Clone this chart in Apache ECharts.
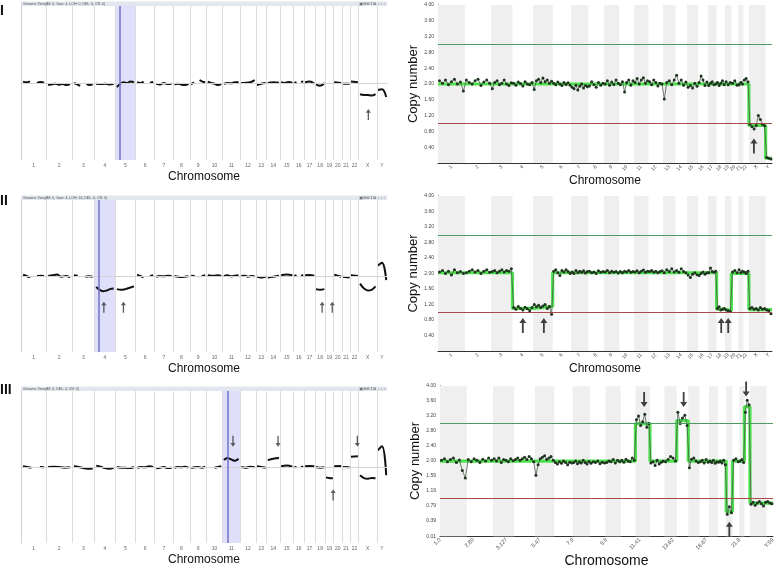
<!DOCTYPE html>
<html><head><meta charset="utf-8">
<script src="https://cdn.jsdelivr.net/npm/echarts@6/dist/echarts.min.js"></script>
<style>html,body{margin:0;padding:0;background:#fff}#c{width:778px;height:569px}</style>
</head><body><div id="c"></div>
<script>
// ---------------- DATA ----------------
const chrNames = ['1','2','3','4','5','6','7','8','9','10','11','12','13','14','15','16','17','18','19','20','21','22','X','Y'];
// right-hand plots: genome position (Mb)
const chrSizesMb = [249,243,198,191,181,171,159,146,141,136,135,134,115,107,103,90,81,78,59,63,48,51,155,59];
// left-hand plots: chromosome display widths
const leftChrWidths = [75,78,67,62,61,57,55,50,50,48,52,48,32,40,40,32,33,30,25,25,25,25,55,30];

// left-hand (smoothed log ratio) traces, per chromosome, null = gap
const leftI = [
 [0.1,0.05,0.12,null,0.0,0.08,0.02],[-0.15,-0.1,-0.05,-0.12,-0.08,-0.15,-0.1],[0.0,-0.1,-0.2,null,-0.05,-0.15,-0.1],
 [-0.05,-0.08,-0.05,-0.1,-0.08],[-0.3,-0.05,0.05,0.0,0.1,0.05],[0.05,0.0,0.1,null,0.02,0.08],[-0.05,-0.1,0.0,-0.08,-0.05],
 [-0.1,-0.05,-0.12,-0.15,-0.08],[-0.1,0.05,null,0.2,0.1,0.05],[0.1,0.0,-0.05,-0.15,-0.08],[-0.05,0.0,-0.02,0.05,0.08],
 [0.0,0.02,0.05,0.2],[-0.15,-0.05,0.0],[0.0,0.05,0.02],[0.05,0.0,0.08,0.02],[0.0,0.05,null,0.08,0.1],[0.05,0.1,-0.05],
 [-0.1,-0.2,0.0],[0.05,null,0.0],[0.05,0.0],[-0.05,-0.05],[0.1,0.05],[-0.8,-0.85,-0.85,-0.9,-0.8],[-0.5,-0.45,-1.0]
];
const leftII = [
 [0.1,0.0,-0.1,null,0.0,0.02,0.0],[0.0,0.05,0.1,-0.05,0.0,-0.1],[0.05,0.02,null,-0.05,-0.02,-0.05],
 [-0.8,-1.0,-1.1,-1.05,-0.95,-0.9],[-0.95,-1.0,-0.95,-0.85,-0.75],[0.1,0.0,-0.1,null,0.0,0.05],[-0.05,0.0,-0.02,0.02,0.0],
 [0.0,-0.05,-0.08,-0.05,-0.02],[0.02,0.0,null,-0.02,0.05],[0.05,0.02,0.02,0.05,0.0],[0.0,0.05,-0.02,0.02,0.05],
 [0.0,0.02,-0.05,0.0,-0.02],[-0.05,-0.1,-0.05],[-0.1,-0.05,0.02],[0.05,0.1,0.05],[0.0,0.05,null,0.02,0.05],[0.05,0.08,0.02],
 [-0.95,-1.0,-0.95],[-0.75,null,-0.7],[0.1,-0.05],[-0.05,-0.1],[0.05,0.0],[-0.55,-0.9,-1.05,-1.0,-0.75],[0.75,0.95,-0.3]
];
const leftIII = [
 [0.05,0.0,-0.05,null,0.0,-0.02],[0.0,0.02,0.0,-0.05,-0.02],[0.05,0.0,-0.08,-0.12,-0.1],
 [0.1,0.02,-0.08,-0.12,-0.05],[0.0,-0.05,-0.05,-0.08,0.0],[-0.05,0.0,-0.02,0.05,0.0],[-0.1,-0.05,0.0,-0.08,-0.05],
 [-0.05,0.0,-0.02,0.02,-0.05],[-0.08,-0.02,0.0,-0.05,0.02],[0.02,null,-0.05,0.0,0.05],[0.5,0.65,0.55,0.45,0.6],
 [0.0,-0.05,0.02,-0.02],[0.05,0.0,-0.05],[0.5,0.6,0.65],[0.05,0.1,0.02],[0.0,-0.02,null,0.0,0.02],[0.05,0.08,0.05],
 [0.0,-0.05,-0.02],[-0.75,-0.8,-0.82],[0.05,0.08],[0.0,-0.02],[0.75,0.78],[-0.6,-0.8,-0.85,-0.8,-0.82],[1.2,1.5,-0.6]
];

// right-hand copy number probes, per chromosome
const cnI = [
 [2.08,2.02,2.1,1.98,2.06,2.12,2.0,2.05,1.82],[2.1,2.04,2.0,2.08,2.12,1.96,2.05,2.1,2.02],[1.88,2.04,2.08,1.98,2.02,2.1,2.0,1.96,2.03],
 [2.02,1.97,2.05,2.01,1.95,2.06,2.0,1.98,2.04],[1.86,2.08,2.12,2.04,2.15,2.06,2.1,2.02,2.07],[2.02,1.98,2.05,2.0,1.96,2.04,1.99,2.03,1.97],
 [1.92,1.88,1.97,1.85,1.94,2.0,1.9,1.96,1.93],[1.95,2.06,1.98,1.92,2.04,1.97,2.02],[2.0,2.08,1.97,2.05,1.99,2.1,2.02],
 [1.98,2.06,1.8,2.04,2.1,1.97,2.08],[2.04,2.14,2.0,2.1,2.16,2.02,2.08],[2.06,1.98,2.1,2.04,1.95,2.02,2.0],
 [1.62,2.04,2.08,1.98,2.1],[2.22,2.02,2.1,1.97,2.05],[1.92,1.96,1.9,2.02,1.94],[2.04,2.2,2.1,1.96,2.05],[1.96,2.02,2.06,1.98,2.0],
 [2.04,1.96,2.02,2.08,1.98],[2.06,1.98,2.04],[2.02,2.08,1.97],[1.98,2.04,2.0],[2.1,2.14,2.06],
 [0.98,0.92,0.86,0.95,1.2,1.1,0.98,0.94],[0.14,0.12,0.1]
];
const cnII = [
 [2.04,2.08,2.0,2.06,1.96,2.1,2.02,2.05,2.0],[2.02,2.06,2.1,2.04,2.08,2.0,2.06,2.1,2.03],[2.05,2.08,2.02,2.06,2.1,2.04,2.08,2.06,2.12],
 [1.12,1.08,1.15,1.1,1.06,1.13,1.09,1.04,1.12],[1.2,1.14,1.18,1.12,1.16,1.2,1.1,1.15,0.95],[2.06,2.1,2.02,1.95,2.08,2.04,2.1,2.05,2.0],
 [2.04,2.0,2.08,2.02,2.06,2.03,2.07,2.01,2.05],[2.06,2.02,2.04,2.0,2.07,2.03,2.05],[2.04,2.08,2.02,2.06,2.03,2.05,2.01],
 [2.05,2.02,2.06,2.04,2.08,2.03,2.05],[2.04,2.07,2.02,2.06,2.09,2.03,2.06],[2.05,2.08,2.03,2.06,2.02,2.05,2.07],
 [2.02,2.1,2.05,2.12,2.04],[2.08,2.03,2.12,2.05,2.02],[1.96,1.9,1.98,2.02,1.97],[1.95,2.0,2.04,1.98,2.02],[2.02,2.14,2.05,2.03,2.06],
 [1.1,1.14,1.06,1.08,1.1],[1.06,1.04,1.02],[2.04,2.08,2.02],[2.1,2.02,2.06],[2.04,2.0,2.06],
 [1.1,1.12,1.08,1.1,1.06,1.12,1.08,1.1],[1.06,1.04,0.96]
];
const cnIII = [
 [2.02,2.06,1.98,2.04,2.08,1.96,2.03,1.75,1.55],[2.04,1.98,2.06,2.02,1.96,2.05,2.0,2.08,2.02],[2.06,2.0,2.08,1.96,2.04,2.02,1.98,2.06,2.01],
 [2.04,2.08,2.02,2.06,2.1,2.04,2.12,2.06,1.98],[1.62,1.9,2.06,2.1,2.14,2.04,2.08,2.12,2.02],[1.96,1.92,1.98,1.94,2.0,1.96,1.9,1.97,1.95],
 [1.96,2.0,1.93,1.98,1.95,2.02,1.96,1.92,1.99],[1.94,1.98,1.96,2.0,1.93,1.97,1.95],[1.96,2.0,1.98,2.04,1.95,2.02,1.98],
 [2.02,1.97,2.05,2.0,1.98,2.08,2.02],[3.1,3.2,2.95,3.05,3.25,2.9,3.0],[1.95,1.98,1.88,2.02,1.92,1.97,2.0],
 [1.98,2.04,2.12,2.08,2.0],[3.3,3.0,3.15,3.22,2.95],[1.82,2.05,2.08,2.0,1.96],[1.98,2.02,1.95,2.04,1.97],[2.0,1.96,2.02,1.94,1.98],
 [1.97,2.0,1.95,2.02,1.9],[0.58,0.78,0.62],[2.02,2.06,1.98],[2.0,2.04,1.96],[3.3,3.62,3.5],
 [0.85,0.9,0.82,0.88,0.92,0.86,0.8,0.9],[0.92,0.88,0.86]
];

// segmented copy number: [from chr, to chr, value]
const segI = [['1','22',2.0],['X','X',0.95],['Y','Y',0.12]];
const segII = [['1','3',2.02],['4','4',1.1],['5','5',1.15],['6','17',2.02],['18','18',1.08],['19','19',1.04],['20','22',2.0],['X','Y',1.07]];
const segIII = [['1','10',2.0],['11','11',3.0],['12','13',2.0],['14','14',3.08],['15','18',2.0],['19','19',0.65],['20','21',2.0],['22','22',3.45],['X','Y',0.88]];

// arrows: [chr, fraction within chr, value at tip, direction]
const arrowsLeftI = [['X',0.53,-1.86,'up']];
const arrowsLeftII = [['4',0.45,-1.86,'up'],['5',0.4,-1.86,'up'],['18',0.7,-1.86,'up'],['19',0.85,-1.86,'up']];
const arrowsLeftIII = [['11',0.6,1.47,'down'],['14',0.85,1.47,'down'],['22',0.85,1.47,'down'],['19',0.95,-1.62,'up']];
const arrowsRightI = [['X',0.3,0.62,'up']];
const arrowsRightII = [['4',0.5,0.85,'up'],['5',0.55,0.85,'up'],['18',0.55,0.85,'up'],['19',0.5,0.85,'up']];
const arrowsRightIII = [['11',0.6,3.44,'down'],['14',0.6,3.44,'down'],['22',0.3,3.72,'down'],['19',0.5,0.38,'up']];

// highlighted chromosome in left plots: [chr, cursor fraction]
const highlights = [['5',0.2],['4',0.2],['11',0.32]];

const panelLabels = ['I','II','III'];
const barTexts = ['Genome View(Aff: 0, Gain: 4, LOH: 0, DEL: 0, CN: 0)','Genome View(Aff: 0, Gain: 4, LOH: 16, DEL: 0, CN: 0)','Genome View(Aff: 0, DEL: 4, CN: 0)'];
const yTickLabelsIII = ['0.01','0.39','0.79','1.19','1.59','2.00','2.40','2.80','3.20','3.60','4.00'];
const xTickLabelsIII = ['1.0','2.80','3.127','5.47','7.9','9.9','11.41','13.62','16.67','21.8','Y.59'];

// ---------------- BUILD ----------------
function cum(w){const s=[];let a=0;for(const v of w){s.push(a);a+=v;}return {starts:s,total:a};}
const R = cum(chrSizesMb), L = cum(leftChrWidths);
const idx = n => chrNames.indexOf(n);
const rCenters = R.starts.map((s,i)=>s+chrSizesMb[i]/2);
const lCenters = L.starts.map((s,i)=>s+leftChrWidths[i]/2);
const nearestName = (centers)=> v => {let b=0;for(let i=1;i<centers.length;i++) if(Math.abs(centers[i]-v)<Math.abs(centers[b]-v)) b=i; return chrNames[b];};

function leftLineData(vals){
  const out=[];
  vals.forEach((arr,c)=>{
    const s=L.starts[c], w=leftChrWidths[c], n=arr.length;
    arr.forEach((v,k)=>{ out.push([s+w*(0.08+0.84*(n===1?0.5:k/(n-1))), v===null?'-':v]); });
    out.push([s+w,'-']);
  });
  return out;
}
function dotData(vals){
  const out=[];
  vals.forEach((arr,c)=>{ const s=R.starts[c], w=chrSizesMb[c], n=arr.length; arr.forEach((v,k)=>out.push([s+w*(k+0.5)/n, v])); });
  return out;
}
function segData(segs){
  const out=[];
  segs.forEach(([a,b,v])=>{ out.push([R.starts[idx(a)], v]); out.push([R.starts[idx(b)]+chrSizesMb[idx(b)], v]); });
  return out;
}
const UP='path://M5 0 L10 8 L6.3 8 L6.3 24 L3.7 24 L3.7 8 L0 8 Z';
const DOWN='path://M3.7 0 L6.3 0 L6.3 16 L10 16 L5 24 L0 16 L3.7 16 Z';
function arrowData(list, starts, widths){
  return list.map(([c,f,v,d])=>({value:[starts[idx(c)]+widths[idx(c)]*f, v], symbol: d==='up'?UP:DOWN, symbolOffset:[0, d==='up'?'50%':'-50%']}));
}

const leftGrids = [{left:21,top:6,width:366,height:154},{left:21,top:200,width:366,height:152},{left:21,top:391,width:366,height:152}];
const rightGrids = [{left:438,top:5,width:334,height:158},{left:438,top:196,width:334,height:155},{left:440,top:386,width:333,height:157}];
const grid = leftGrids.concat(rightGrids);

const xAxis=new Array(6), yAxis=new Array(6), series=[], graphic=[];
const leftSets=[leftI,leftII,leftIII], cnSets=[cnI,cnII,cnIII], segSets=[segI,segII,segIII];
const lArrows=[arrowsLeftI,arrowsLeftII,arrowsLeftIII], rArrows=[arrowsRightI,arrowsRightII,arrowsRightIII];
const font='Liberation Sans, Arial, sans-serif';

for(let p=0;p<3;p++){
  // left plot
  xAxis[p]={gridIndex:p,type:'value',min:0,max:L.total,
    axisLine:{lineStyle:{color:'#bdbdbd'}},
    axisTick:{show:true,customValues:L.starts.slice(1),length:2,lineStyle:{color:'#bbb'}},
    axisLabel:{customValues:lCenters,formatter:nearestName(lCenters),fontSize:5,color:'#666',margin:3,fontFamily:font},
    splitLine:{show:false},
    name:'Chromosome',nameLocation:'middle',nameGap:11,nameTextStyle:{fontSize:12,color:'#111',fontFamily:font}};
  yAxis[p]={gridIndex:p,type:'value',min:-5.5,max:5.5,axisLine:{show:true,lineStyle:{color:'#cfcfcf'}},
    axisTick:{show:false},axisLabel:{show:false},splitLine:{show:false}};
  const hl=highlights[p], hi=idx(hl[0]);
  const bounds=L.starts.slice(1).map(v=>({xAxis:v,lineStyle:{color:'#dcdcdc',width:1,type:'solid'}}));
  bounds.push({yAxis:0,lineStyle:{color:'#d4d4d4',width:1,type:'solid'}});
  bounds.push({xAxis:L.starts[hi]+leftChrWidths[hi]*hl[1],lineStyle:{color:'#7272c8',width:1.5,type:'solid'}});
  series.push({type:'line',xAxisIndex:p,yAxisIndex:p,data:[[0,-20]],symbol:'none',silent:true,z:1,
    markArea:{silent:true,itemStyle:{color:'rgba(175,175,245,0.4)'},data:[[{xAxis:L.starts[hi]},{xAxis:L.starts[hi]+leftChrWidths[hi]}]]},
    markLine:{silent:true,symbol:['none','none'],label:{show:false},data:bounds}});
  series.push({type:'line',xAxisIndex:p,yAxisIndex:p,data:leftLineData(leftSets[p]),smooth:0.4,showSymbol:false,
    lineStyle:{color:'#111',width:2},z:3});
  series.push({type:'scatter',xAxisIndex:p,yAxisIndex:p,data:arrowData(lArrows[p],L.starts,leftChrWidths),
    symbolSize:[5,11],itemStyle:{color:'#333'},z:5});
  // top bar
  const g=leftGrids[p];
  graphic.push({type:'rect',shape:{x:g.left,y:g.top-4.5,width:g.width,height:4.5},style:{fill:'#e2e6ee'}});
  graphic.push({type:'text',x:g.left+2,y:g.top-2.3,style:{text:barTexts[p],fontSize:3.5,fill:'#555',verticalAlign:'middle',fontFamily:font}});
  graphic.push({type:'text',x:g.left+g.width-2,y:g.top-2.3,style:{text:'▣⊟⊞↕⊠ ‹ › ›',fontSize:4,fill:'#666',align:'right',verticalAlign:'middle',fontFamily:'DejaVu Sans'}});
  graphic.push({type:'text',x:0,y:[11.5,201,390][p],style:{text:panelLabels[p],fontSize:14,fontWeight:'bold',fill:'#111',verticalAlign:'middle',fontFamily:font}});

  // right plot
  const gi=3+p, isIII=p===2;
  const xCustom = isIII ? xTickLabelsIII.map((_,k)=>k*R.total/10) : rCenters;
  xAxis[gi]={gridIndex:gi,type:'value',min:0,max:R.total,
    axisLine:{lineStyle:{color:'#333'}},axisTick:{show:false},
    axisLabel:{customValues:xCustom,rotate:45,fontSize:isIII?5.5:5,color:'#444',margin:3,fontFamily:font,
      formatter: isIII ? (v=>xTickLabelsIII[Math.round(v/(R.total/10))]) : nearestName(rCenters)},
    splitLine:{show:false},
    name:'Chromosome',nameLocation:'middle',nameGap:isIII?13:9,nameTextStyle:{fontSize:isIII?14:12,color:'#111',fontFamily:font}};
  yAxis[gi]={gridIndex:gi,type:'value',min:0,max:4,interval:0.4,
    axisLine:{show:true,lineStyle:{color:'#333'}},axisTick:{show:false},
    axisLabel:{fontSize:5,color:'#444',margin:4,fontFamily:font,
      formatter: isIII ? (v=>yTickLabelsIII[Math.round(v/0.4)]) : (v=> v<0.01?'':v.toFixed(2))},
    splitLine:{show:false},
    name:'Copy number',nameLocation:'middle',nameRotate:90,nameGap:16,nameTextStyle:{fontSize:13,color:'#111',fontFamily:font}};
  const bands=[];
  for(let c=0;c<chrNames.length;c+=2) bands.push([{xAxis:R.starts[c]},{xAxis:R.starts[c]+chrSizesMb[c]}]);
  series.push({type:'line',xAxisIndex:gi,yAxisIndex:gi,data:[[0,-20]],symbol:'none',silent:true,z:1,
    markArea:{silent:true,itemStyle:{color:'#efefef'},data:bands},
    markLine:{silent:true,symbol:['none','none'],label:{show:false},data:[
      {yAxis:3,lineStyle:{color:'#4f9a62',width:1,type:'solid'}},
      {yAxis:1,lineStyle:{color:'#a84a4a',width:1,type:'solid'}}]}});
  series.push({type:'line',xAxisIndex:gi,yAxisIndex:gi,data:segData(segSets[p]),showSymbol:false,
    lineStyle:{color:'#45e045',width:3.2,opacity:0.95},z:3});
  series.push({type:'line',xAxisIndex:gi,yAxisIndex:gi,data:dotData(cnSets[p]),showSymbol:true,showAllSymbol:true,
    symbol:'circle',symbolSize:3,itemStyle:{color:'#1f351f'},lineStyle:{color:'#4a5a4a',width:0.8},z:4});
  series.push({type:'scatter',xAxisIndex:gi,yAxisIndex:gi,data:arrowData(rArrows[p],R.starts,chrSizesMb),
    symbolSize:[7,15],itemStyle:{color:'#111'},z:5});
}

const chart = echarts.init(document.getElementById('c'));
chart.setOption({animation:false,backgroundColor:'#fff',grid,xAxis,yAxis,series,graphic});
</script></body></html>
